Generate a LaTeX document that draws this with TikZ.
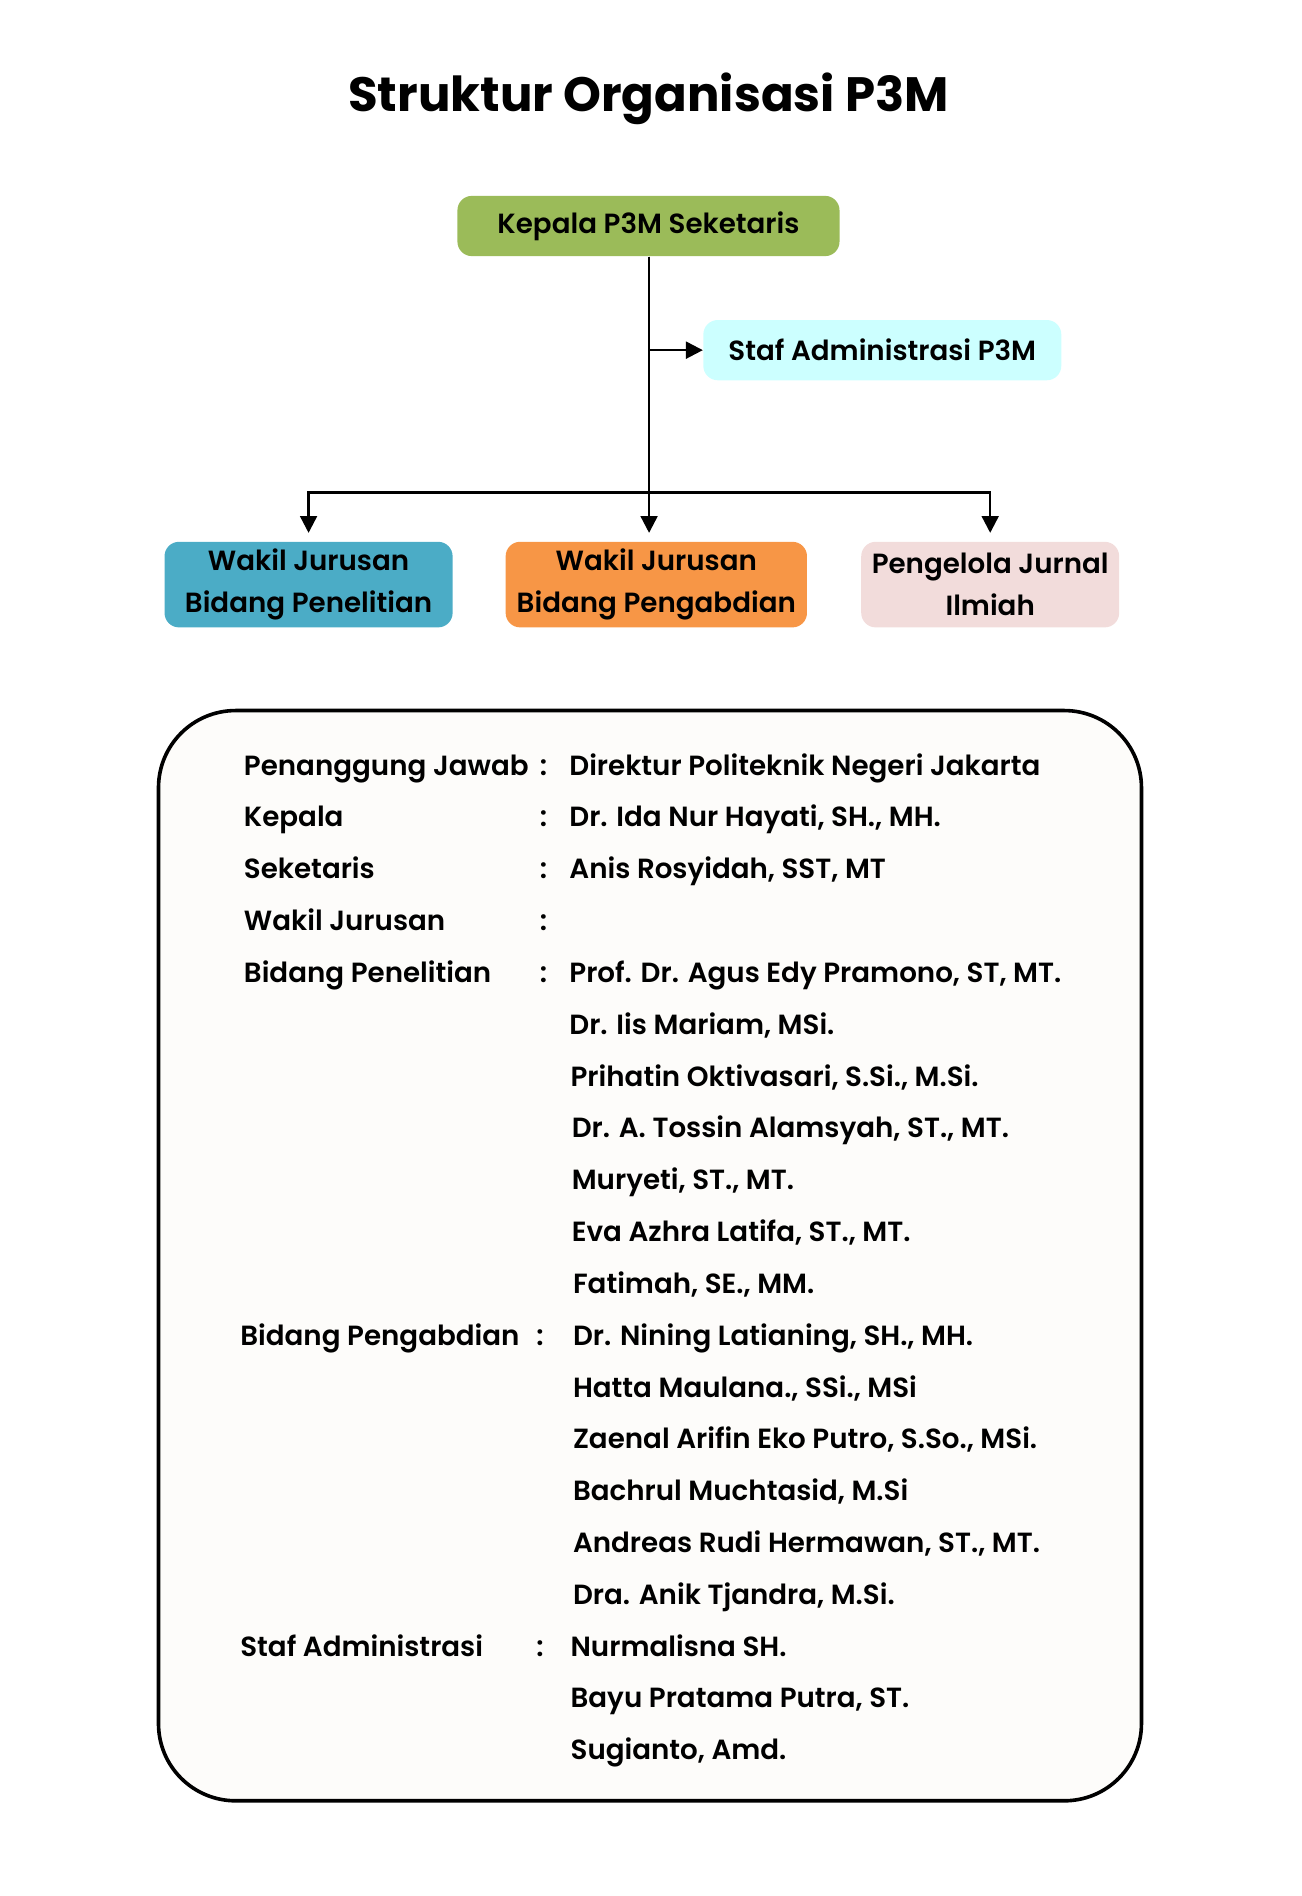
\documentclass[tikz,border=0pt]{standalone}
\usepackage{fontspec}
\setmainfont{Poppins}[UprightFont=* SemiBold, BoldFont=* Bold]
\usetikzlibrary{arrows.meta,positioning}

\definecolor{kepgreen}{HTML}{9BBB59}
\definecolor{stafcyan}{HTML}{CCFFFF}
\definecolor{penblue}{HTML}{4BACC6}
\definecolor{pengorange}{HTML}{F79646}
\definecolor{jurpink}{HTML}{F2DCDB}
\definecolor{listfill}{HTML}{FDFCFA}

\begin{document}
\begin{tikzpicture}[x=0.5pt,y=-0.5pt,
    unit/.style={rounded corners=6pt, inner sep=0pt, align=center,
      font=\fontsize{11.5}{17.5}\selectfont},
    link/.style={line width=1pt, -{Triangle[length=7pt,width=7pt]}},
    item/.style={anchor=base west, inner sep=0pt, font=\fontsize{11.5}{13}\selectfont},
    colon/.style={anchor=base, inner sep=0pt, font=\fontsize{11.5}{13}\selectfont}]
  \useasboundingbox (0,0) rectangle (1080,1573);

  % title
  \node[font=\fontsize{20}{24}\bfseries, inner sep=0pt] (title) at (538,82) {Struktur Organisasi P3M};

  % chart
  \node[unit, fill=kepgreen, minimum width=158.5pt, minimum height=25pt] (kepala) at (538,187.5) {Kepala P3M Seketaris};
  \node[unit, fill=stafcyan, minimum width=148.5pt, minimum height=25pt] (staf) at (732,290.5) {Staf Administrasi P3M};
  \node[unit, fill=penblue, minimum width=119.5pt, minimum height=35.5pt] (pen) at (256,485) {Wakil Jurusan\\Bidang Penelitian};
  \node[unit, fill=pengorange, minimum width=125pt, minimum height=35.5pt] (peng) at (544.5,485) {Wakil Jurusan\\Bidang Pengabdian};
  \node[unit, fill=jurpink, minimum width=107pt, minimum height=35.5pt] (jur) at (821.5,485) {Pengelola Jurnal\\Ilmiah};

  \coordinate (split) at (538.5,408.5);
  \draw[line width=1pt] (kepala.south -| split) -- (split);
  \draw[link] (kepala.south -| split) |- (staf.west);
  \draw[link, shorten >=3.5pt] (split) -| (pen.north);
  \draw[link, shorten >=3.5pt] (split) -- (split |- peng.north);
  \draw[link, shorten >=3.5pt] (split) -| (jur.north);

  % member list
  \draw[line width=1.5pt, rounded corners=32pt, fill=listfill] (131.5,589.5) rectangle (947,1494);

  \node[item] (pj) at (202,643) {Penanggung Jawab};
  \node[colon] (pjc) at (451,643) {:};
  \node[item] (pjv) at (472,643) {Direktur Politeknik Negeri Jakarta};
  \node[item] (kp) at (202,686) {Kepala};
  \node[colon] (kpc) at (451,686) {:};
  \node[item] (kpv) at (472,686) {Dr. Ida Nur Hayati, SH., MH.};
  \node[item] (sk) at (202,729) {Seketaris};
  \node[colon] (skc) at (451,729) {:};
  \node[item] (skv) at (472,729) {Anis Rosyidah, SST, MT};
  \node[item] (wj) at (202,772) {Wakil Jurusan};
  \node[colon] (wjc) at (451,772) {:};
  \node[item] (bp) at (202,815) {Bidang Penelitian};
  \node[colon] (bpc) at (451,815) {:};
  \node[item] (bp1) at (472,815) {Prof. Dr. Agus Edy Pramono, ST, MT.};
  \node[item] (bp2) at (472,858) {Dr. Iis Mariam, MSi.};
  \node[item] (bp3) at (473,901) {Prihatin Oktivasari, S.Si., M.Si.};
  \node[item] (bp4) at (474,944) {Dr. A. Tossin Alamsyah, ST., MT.};
  \node[item] (bp5) at (474,987) {Muryeti, ST., MT.};
  \node[item] (bp6) at (474,1030) {Eva Azhra Latifa, ST., MT.};
  \node[item] (bp7) at (475,1073) {Fatimah, SE., MM.};
  \node[item] (bg) at (199,1116) {Bidang Pengabdian};
  \node[colon] (bgc) at (448,1116) {:};
  \node[item] (bg1) at (475,1116) {Dr. Nining Latianing, SH., MH.};
  \node[item] (bg2) at (475,1159) {Hatta Maulana., SSi., MSi};
  \node[item] (bg3) at (475,1202) {Zaenal Arifin Eko Putro, S.So., MSi.};
  \node[item] (bg4) at (475,1245) {Bachrul Muchtasid, M.Si};
  \node[item] (bg5) at (475,1288) {Andreas Rudi Hermawan, ST., MT.};
  \node[item] (bg6) at (475,1331) {Dra. Anik Tjandra, M.Si.};
  \node[item] (sa) at (199,1374) {Staf Administrasi};
  \node[colon] (sac) at (448,1374) {:};
  \node[item] (sa1) at (473,1374) {Nurmalisna SH.};
  \node[item] (sa2) at (473,1417) {Bayu Pratama Putra, ST.};
  \node[item] (sa3) at (473,1460) {Sugianto, Amd.};
\end{tikzpicture}
\end{document}
